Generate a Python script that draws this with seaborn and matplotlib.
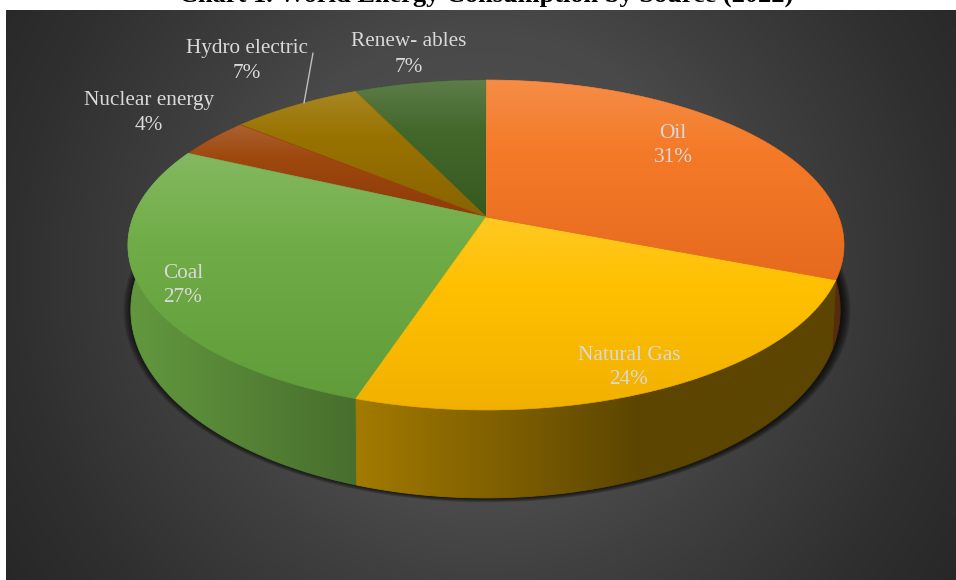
import numpy as np
import matplotlib
matplotlib.use("Agg")
import matplotlib.pyplot as plt
import seaborn as sns
from matplotlib.collections import LineCollection
from matplotlib.patches import Polygon

# Energy mix, clockwise from twelve o'clock
sources = ["Oil", "Natural Gas", "Coal", "Nuclear energy", "Hydro electric", "Renew- ables"]
shares = [31, 24, 27, 4, 7, 7]
slice_colors = ["#F47A28", "#FFC000", "#70AD47", "#9E480E", "#997300", "#43682B"]
title = "Chart 1. World Energy Consumption by Source (2022)"

# Label centres in pixels (x, y of the first line)
label_pos = [(673, 133), (629, 355), (183, 273), (149, 101), (247, 49), (409, 42)]

sns.set_theme(style="white")
plt.rcParams["font.family"] = ["Liberation Serif", "DejaVu Serif"]

W, H = 956, 580
fig = plt.figure(figsize=(W / 100, H / 100), dpi=100, facecolor="white")
ax = fig.add_axes([0, 0, 1, 1])
ax.set_xlim(0, W)
ax.set_ylim(H, 0)
ax.axis("off")

# Panel background: dark radial gradient
px, py = np.meshgrid(np.arange(6, W) + 0.5, np.arange(10, H) + 0.5)
dist = np.hypot(px - 482, py - 272)
grey = np.interp(dist, [0, 240, 310, 470, 570], [0x55, 0x49, 0x40, 0x2F, 0x27]) / 255
ax.imshow(np.dstack([grey] * 3), extent=(6, W, H, 10), aspect="auto", zorder=0,
          interpolation="bilinear")

PERSPECTIVE = 0.1697
CX = 486


def rim(theta, center_x, apex_y, height, width):
    """Project a disc point (clockwise angle from the top) onto the tilted plane."""
    dx, dy = np.sin(theta), np.cos(theta)
    depth = 1 + PERSPECTIVE * dy
    return center_x + width * dx / depth, apex_y - height * dy / depth


def top_rim(theta):
    return rim(theta, CX, 217, 160.2, 352.8)


def bottom_rim(theta):
    return rim(theta, CX - 0.5, 278, 182.6, 349.5)


def outline(xs, ys, color_of, order, lw):
    """Antialiased outline that hides the stepped edge of a clipped gradient."""
    seg = np.stack([np.column_stack([xs[:-1], ys[:-1]]),
                    np.column_stack([xs[1:], ys[1:]])], axis=1)
    ax.add_collection(LineCollection(seg, colors=color_of(seg), linewidths=lw, zorder=order))


edges = np.concatenate([[0], np.cumsum(shares)]) / np.sum(shares) * 2 * np.pi
palette = sns.color_palette(slice_colors)

# Soft contact shadow around the base of the disc
theta_all = np.linspace(0, 2 * np.pi, 360)
bx, by = bottom_rim(theta_all)
for grow in range(9, 0, -1):
    sx = (355 + grow) / 355
    sy = (188 + grow * 0.5) / 188
    ax.add_patch(Polygon(np.column_stack([CX + 1.5 + (bx - CX) * sx, 310 + (by - 310) * sy]),
                         closed=True, fc="black", ec="none", alpha=0.105, zorder=1))


def wall_shade(base, x):
    """Wall colour darkens from the left of the disc towards the right."""
    return np.asarray(base) * np.interp(x, [128, 345, 640, 844], [0.88, 0.65, 0.36, 0.36])[..., None]


# Cylinder wall: one horizontally shaded piece per slice
wall_order = sorted(range(len(shares)),
                    key=lambda k: bottom_rim(np.linspace(edges[k], edges[k + 1], 40))[1].max())
for step, k in enumerate(wall_order):
    base = palette[k]
    th = np.linspace(edges[k], edges[k + 1], 120)
    tx, ty = top_rim(th)
    lx, ly = bottom_rim(th)
    wall_x = np.concatenate([tx, lx[::-1], tx[:1]])
    wall_y = np.concatenate([ty, ly[::-1], ty[:1]])
    ramp = np.linspace(wall_x.min(), wall_x.max(), int(np.ptp(wall_x)) + 2)
    img = ax.imshow(wall_shade(base, ramp)[None, :, :],
                    extent=(wall_x.min(), wall_x.max(), wall_y.max(), wall_y.min()),
                    aspect="auto", zorder=2 + step * 0.01, interpolation="bilinear")
    img.set_clip_path(Polygon(np.column_stack([wall_x, wall_y]), closed=True, transform=ax.transData))
    outline(wall_x, wall_y, lambda seg, b=base: wall_shade(b, seg[:, :, 0].mean(axis=1)),
            2 + step * 0.01 + 0.001, 0.6)


def slice_shade(base, t):
    """Colour down one slice: light sheen at its top, deeper and darker at its bottom."""
    base = np.asarray(base)
    t = np.asarray(t)[..., None]
    light = base + (1 - base) * 0.14
    dark = base ** 1.12 * 0.95
    upper = light + (base - light) * np.clip(t / 0.36, 0, 1)
    return upper + (dark - upper) * np.clip((t - 0.36) / 0.64, 0, 1)


# Top face: each slice carries its own vertical gradient; the first slice is laid last
for k in reversed(range(len(shares))):
    base = palette[k]
    order = 3 + (len(shares) - k) * 0.01
    th = np.linspace(edges[k], edges[k + 1], 160)
    rx, ry = top_rim(th)
    poly_x = np.concatenate([[CX], rx, [CX]])
    poly_y = np.concatenate([[217], ry, [217]])
    y0, y1 = poly_y.min(), poly_y.max()
    ramp = np.linspace(0, 1, int(y1 - y0) + 2)
    img = ax.imshow(slice_shade(base, ramp)[:, None, :],
                    extent=(poly_x.min(), poly_x.max(), y1, y0), aspect="auto",
                    zorder=order, interpolation="bilinear")
    img.set_clip_path(Polygon(np.column_stack([poly_x, poly_y]), closed=True, transform=ax.transData))
    outline(poly_x, poly_y,
            lambda seg, b=base, a=y0, c=y1: slice_shade(b, (seg[:, :, 1].mean(axis=1) - a) / (c - a)),
            order + 0.001, 0.5)

ax.set_xlim(0, W)
ax.set_ylim(H, 0)

# Labels
LINE_GAP = 25
text_color = "#D9D9D9"
for name, share, (tx_, ty_) in zip(sources, shares, label_pos):
    ax.text(tx_, ty_, name, color=text_color, fontsize=15.3, ha="center", va="center", zorder=5)
    ax.text(tx_, ty_ + LINE_GAP, f"{share}%", color=text_color, fontsize=15.3, ha="center",
            va="center", zorder=5)

# Leader line for the hydro slice
ax.plot([313, 304], [53, 103], color="#BFBFBF", lw=1.0, zorder=4)

ax.text(486, 2, title, color="black", fontsize=19, fontweight="bold", ha="center",
        va="baseline", zorder=6)

fig.savefig("out.png", dpi=100, facecolor="white")
